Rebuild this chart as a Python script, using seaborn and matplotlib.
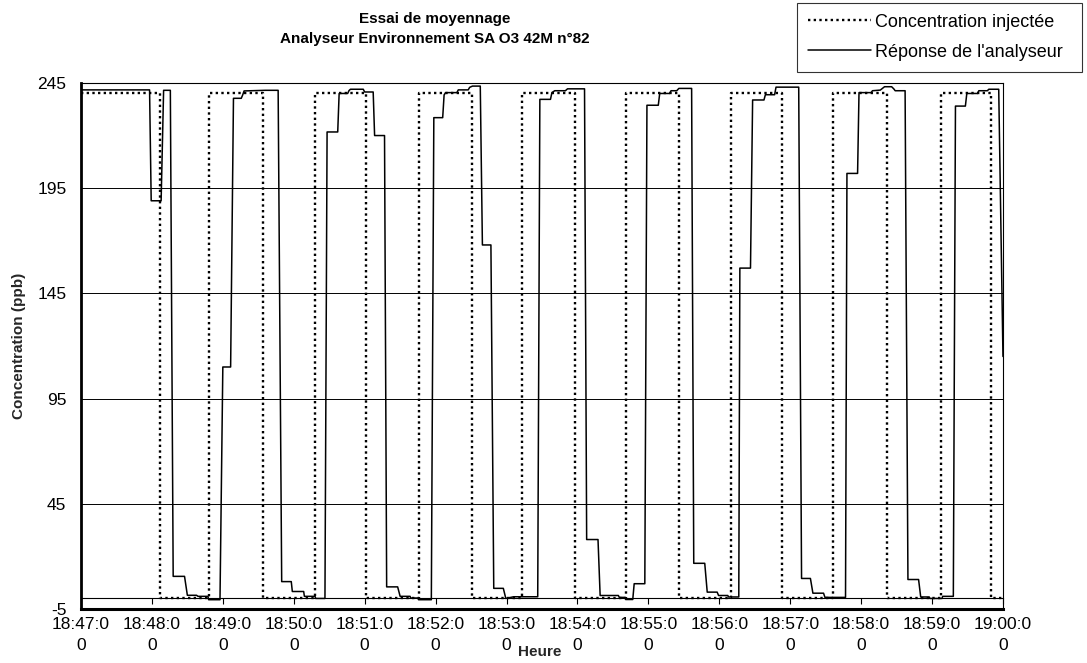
import numpy as np
import pandas as pd
import matplotlib.pyplot as plt
import seaborn as sns

# ==========================================
# Données (temps en minutes depuis 18:47:00)
# ==========================================

# libellés de l'axe des temps, coupés sur deux lignes comme dans Excel
heures_l1 = ["18:47:0", "18:48:0", "18:49:0", "18:50:0", "18:51:0", "18:52:0", "18:53:0",
             "18:54:0", "18:55:0", "18:56:0", "18:57:0", "18:58:0", "18:59:0", "19:00:0"]
heures_l2 = ["0", "0", "0", "0", "0", "0", "0", "0", "0", "0", "0", "0", "0", "0"]
positions_heures = [0, 1, 2, 3, 4, 5, 6, 7, 8, 9, 10, 11, 12, 13]

# concentration injectée : créneaux 240 / 0 ppb
inj_bascules = [1.11, 1.81, 2.57, 3.30, 4.02, 4.76, 5.51, 6.22, 6.96,
                7.69, 8.43, 9.16, 9.89, 10.61, 11.37, 12.12, 12.83]
inj_niveaux = [240, 0]
t_fin = 13.0

# réponse de l'analyseur
rep_t = [0.00, 0.967, 0.99, 1.13, 1.165, 1.26, 1.30, 1.46, 1.50, 1.63, 1.65, 1.79, 1.80, 1.96,
         2.00, 2.11, 2.15, 2.26, 2.28, 2.30, 2.60, 2.78, 2.83, 2.965, 2.98, 3.14, 3.15, 3.30, 3.31, 3.44,
         3.47, 3.62, 3.64, 3.76, 3.78, 3.80, 3.98, 4.00, 4.12, 4.14, 4.28, 4.31, 4.465, 4.50, 4.64, 4.65, 4.75, 4.76, 4.94,
         4.975, 5.10, 5.12, 5.14, 5.30, 5.32, 5.46, 5.48, 5.52, 5.63, 5.66, 5.78, 5.82, 5.955, 5.99, 6.10, 6.44,
         6.47, 6.62, 6.64, 6.68, 6.83, 6.86, 7.10, 7.13, 7.29, 7.32, 7.577, 7.59, 7.67, 7.68, 7.78,
         7.80, 7.95, 7.98, 8.14, 8.16, 8.30, 8.32, 8.40, 8.43, 8.61, 8.64, 8.795, 8.83, 8.97, 8.99, 9.12, 9.13, 9.275,
         9.29, 9.44, 9.47, 9.63, 9.65, 9.78, 9.80, 10.12, 10.16, 10.285, 10.32, 10.47, 10.49, 10.78,
         10.80, 10.95, 10.97, 11.14, 11.16, 11.27, 11.30, 11.33, 11.43, 11.46, 11.48, 11.62, 11.66, 11.81, 11.84, 11.96, 11.97, 12.14, 12.15, 12.30,
         12.33, 12.47, 12.49, 12.64, 12.66, 12.78, 12.80, 12.94, 13.00]
rep_v = [241.7, 241.7, 189, 189, 241.5, 241.5, 10.5, 10.5, 1.5, 1.5, 1.0, 1.0, -0.6, -0.6,
         110, 110, 237.7, 237.7, 239.3, 241.2, 241.5, 241.5, 8, 8, 3.3, 3.3, 1.0, 1.0, 0, 0,
         221.7, 221.7, 240, 240, 241.4, 242, 242, 240.7, 240.7, 220, 220, 5.5, 5.5, 1.0, 1.0, 0.2, 0.2, -0.6, -0.6,
         228.5, 228.5, 239.3, 240.4, 240.4, 241.7, 241.7, 242.9, 243.5, 243.5, 168, 168, 4.8, 4.8, 0, 0.8, 0.8,
         237.2, 237.2, 240.4, 241.3, 241.3, 242.2, 242.2, 28, 28, 1.4, 1.4, 0.5, 0.5, -0.5, -0.5,
         7, 7, 234.4, 234.4, 240, 240, 241.3, 241.3, 242.4, 242.4, 16.7, 16.7, 3, 3, 1.4, 1.4, 0.7, 0.7,
         157, 157, 236.9, 236.9, 239.4, 239.4, 243, 243, 9.5, 9.5, 2.5, 2.5, 0.5, 0.5,
         202, 202, 240.4, 240.4, 241.3, 241.6, 242.4, 243.2, 243.2, 242.2, 241.3, 241.3, 9, 9, 0.7, 0.7, 0, 0, 1, 1,
         234, 234, 240, 240, 241.3, 241.3, 242, 242, 115]

# ==========================================
# Mise en forme
# ==========================================

sns.set_theme(style="white", rc={"axes.edgecolor": "black", "text.color": "black",
                                 "xtick.color": "black", "ytick.color": "black"})
plt.rcParams['font.family'] = ['Liberation Sans', 'DejaVu Sans']
plt.rcParams['axes.unicode_minus'] = False

# créneaux de la concentration injectée
inj_t = [0.0]
inj_v = [inj_niveaux[0]]
niveau = 0
for b in inj_bascules:
    inj_t += [b, b]
    inj_v += [inj_niveaux[niveau], inj_niveaux[1 - niveau]]
    niveau = 1 - niveau
inj_t.append(t_fin)
inj_v.append(inj_niveaux[niveau])

df_inj = pd.DataFrame({'t': inj_t, 'c': inj_v})
df_rep = pd.DataFrame({'t': rep_t, 'c': rep_v})

fig = plt.figure(figsize=(10.87, 6.63), dpi=100)
ax = fig.add_axes([0.0745, 0.0815, 0.8482, 0.7934])

sns.lineplot(data=df_inj, x='t', y='c', estimator=None, sort=False, color='black',
             linewidth=1.7, linestyle=(0, (1, 1.4)), label='Concentration injectée', ax=ax)
sns.lineplot(data=df_rep, x='t', y='c', estimator=None, sort=False, color='black',
             linewidth=1.1, label="Réponse de l'analyseur", ax=ax)

ax.set_xlim(0, 13)
ax.set_ylim(-5, 245)
ax.set_yticks([-5, 45, 95, 145, 195, 245])
ax.set_xticks(positions_heures)
ax.set_xticklabels(heures_l1)
ax.tick_params(axis='x', length=0, pad=5.5, labelsize=12.5)
ax.tick_params(axis='y', length=0, pad=10.5, labelsize=12.5)

ax.grid(axis='y', color='black', linewidth=0.7)
ax.grid(axis='x', visible=False)

for side in ['top', 'right']:
    ax.spines[side].set_linewidth(0.8)
ax.spines['left'].set_linewidth(2.0)
ax.spines['bottom'].set_linewidth(2.2)

# axe des temps croisant à 0 ppb
sec = ax.secondary_xaxis(5 / 250)
sec.set_xticks(positions_heures)
sec.tick_params(direction='out', length=4, width=0.8, labelbottom=False)
sec.spines['bottom'].set_linewidth(0.8)

# seconde ligne des libellés horaires
sec2 = ax.secondary_xaxis('bottom')
sec2.set_xticks(positions_heures, labels=heures_l2)
sec2.tick_params(length=0, pad=21, labelsize=12.5)
sec2.spines['bottom'].set_visible(False)

ax.set_ylabel('Concentration (ppb)', fontsize=11, fontweight='bold', labelpad=8)
ax.set_xlabel('Heure', fontsize=11, fontweight='bold')
ax.xaxis.set_label_coords(0.498, -0.082)
ax.xaxis.label.set_verticalalignment('center')

fig.text(0.400, 0.956, "Essai de moyennage\nAnalyseur Environnement SA O3 42M n°82",
         ha='center', va='center', fontsize=11, fontweight='bold', linespacing=1.5)

handles, labels = ax.get_legend_handles_labels()
ax.get_legend().remove()
leg = fig.legend(handles, labels, loc='upper left', bbox_to_anchor=(0.7332, 0.9955, 0.2622, 0.0),
                 mode='expand', fontsize=13, frameon=True, fancybox=False, edgecolor='black',
                 handlelength=3.5, handletextpad=0.2, borderpad=0.6, labelspacing=0.72,
                 borderaxespad=0)
leg.get_frame().set_linewidth(0.8)

plt.savefig('out.png', dpi=100)
